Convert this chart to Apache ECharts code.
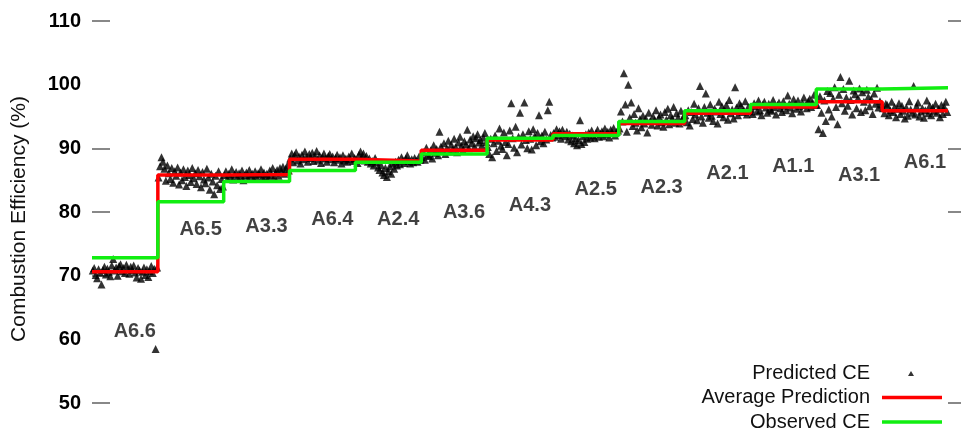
<!DOCTYPE html>
<html>
<head>
<meta charset="utf-8">
<script src="https://cdn.jsdelivr.net/npm/echarts@6/dist/echarts.min.js"></script>
<style>html,body{margin:0;padding:0;background:#fff}#c{width:961px;height:434px}</style>
</head>
<body>
<div id="c"></div>
<script>
// Test categories, in plotting order
const categories = ['A6.6','A6.5','A3.3','A6.4','A2.4','A3.6','A4.3','A2.5','A2.3','A2.1','A1.1','A3.1','A6.1'];
// Average prediction per test (%)
const avgPrediction = [70.6, 85.8, 85.9, 88.3, 88.0, 89.7, 91.3, 92.3, 93.9, 95.5, 96.5, 97.3, 95.9];
// Observed CE per test (%)
const observedCE = [72.8, 81.6, 84.8, 86.5, 87.8, 89.1, 91.6, 92.0, 94.2, 95.9, 96.9, 99.3, 99.5];
// Value height (in %) where each category label sits
const categoryLabelY = [61.2, 77.3, 77.8, 78.9, 78.8, 80.0, 81.0, 83.5, 83.9, 86.0, 87.2, 85.7, 87.7];
// Y-axis ticks
const yTicks = [50, 60, 70, 80, 90, 100, 110];

// Predicted CE samples per test (%)
const predA66 = [70.8,71.2,70.1,69.6,71.0,70.5,68.6,70.9,71.4,70.2,71.1,70.6,69.9,71.6,72.6,70.8,71.3,70.0,71.5,71.8,70.7,71.2,70.4,71.7,71.0,70.3,71.4,70.9,71.6,70.5,69.7,71.2,70.8,69.5,70.6,71.3,70.1,71.0,69.8,70.7,71.5,70.4,71.1,58.5,71.3];
const predA65 = [85.4,87.2,88.6,87.9,86.8,84.9,87.3,86.1,85.2,86.9,84.6,86.4,85.7,87.0,84.3,86.2,85.0,86.7,85.5,84.1,86.5,85.8,84.7,86.9,85.3,86.1,84.4,86.6,85.6,83.9,86.3,85.1,84.5,86.8,85.4,83.5,86.0,84.8,82.8,85.7,84.2,86.4,83.6,85.2,84.0];
const predA33 = [85.8,86.4,85.2,86.0,85.5,86.7,85.1,85.9,86.3,85.4,86.1,85.6,86.5,85.0,85.8,86.2,85.3,86.6,85.7,86.0,85.2,86.4,85.5,86.1,85.9,86.7,85.4,86.2,85.6,86.0,85.3,86.5,85.8,86.9,85.5,86.2,86.6,85.7,86.9,86.3,87.1,86.0,86.8,87.3,86.5];
const predA64 = [88.4,89.2,87.8,88.9,89.4,88.1,88.7,87.6,89.0,88.3,89.5,88.6,87.9,89.1,88.5,89.3,88.0,88.8,89.6,88.2,88.9,87.7,88.6,89.2,88.4,87.9,88.8,89.1,88.3,88.7,87.8,88.5,89.0,88.2,88.6,87.6,88.9,88.1,88.4,87.9,88.7,88.3,89.2,88.0,88.5];
const predA24 = [88.3,87.7,89.0,89.5,88.6,89.2,88.1,88.8,87.9,88.4,87.6,88.0,87.3,88.5,87.8,87.0,86.6,87.4,86.2,85.8,86.9,85.5,86.4,87.2,86.0,87.6,86.8,87.9,87.3,88.2,87.5,88.6,88.1,87.7,88.4,88.9,88.0,87.6,88.3,87.8,88.5,88.1,87.9,88.7,88.2];
const predA36 = [88.6,89.4,88.2,90.1,89.0,88.8,89.7,88.4,90.5,89.3,89.9,88.9,92.6,90.3,89.6,90.8,89.1,90.0,91.2,89.5,90.6,89.8,91.5,90.2,89.4,90.9,91.8,90.4,89.7,91.1,90.6,92.9,90.0,91.4,90.8,91.9,90.3,91.6,92.2,90.9,91.3,90.5,91.7,92.4,91.0];
const predA43 = [90.2,89.1,91.5,88.6,90.8,92.0,89.6,91.2,93.1,90.4,89.9,92.5,91.0,88.9,90.7,92.8,97.1,91.6,90.1,93.4,89.4,91.8,95.6,90.6,92.2,97.2,91.3,90.0,92.7,91.5,89.8,93.0,91.9,90.5,92.4,95.2,91.1,92.0,90.8,92.6,91.4,96.0,97.3,92.1,91.7];
const predA25 = [92.4,91.8,93.0,92.1,92.7,91.5,92.9,92.2,91.9,92.6,91.4,92.3,91.1,92.0,90.8,91.6,90.5,91.3,94.4,90.7,91.9,91.0,92.2,91.5,92.5,91.7,92.8,92.0,91.6,92.4,92.9,91.8,92.3,92.7,91.9,93.1,92.2,92.6,91.7,92.9,92.4,93.2,92.0,92.6,92.8];
const predA23 = [93.1,95.8,94.2,101.8,96.9,92.6,100.0,94.8,97.2,93.5,95.4,94.0,92.8,96.3,94.6,93.3,95.1,93.9,94.7,92.5,95.6,94.3,93.7,95.0,94.4,96.0,93.6,94.9,95.3,94.1,93.4,95.7,94.5,96.2,93.8,95.2,94.7,96.5,94.0,95.5,94.8,93.9,95.9,94.6,95.1];
const predA21 = [95.2,94.1,96.0,93.6,95.7,94.6,97.0,95.3,94.4,96.3,99.8,95.0,94.0,96.5,98.6,95.6,94.8,96.9,95.1,94.3,96.2,95.8,93.9,97.3,95.4,96.6,94.9,95.9,96.8,94.5,97.6,95.5,96.1,94.7,99.6,96.4,95.2,97.1,96.7,95.7,96.0,97.4,95.3,96.5,95.8];
const predA11 = [96.2,95.4,97.1,96.6,95.8,97.5,96.0,95.2,96.9,97.3,96.4,95.6,97.0,96.1,95.9,97.6,96.5,95.3,96.8,97.2,96.3,95.7,97.4,96.7,96.0,98.3,97.0,96.4,95.5,97.7,96.9,96.2,97.5,96.6,95.8,97.1,98.0,96.8,96.3,97.4,97.8,96.5,97.2,98.4,96.9];
const predA31 = [96.8,93.0,98.2,95.6,92.4,97.5,94.3,99.0,96.1,98.7,95.0,97.8,99.6,96.5,93.8,98.4,101.2,97.1,99.3,95.9,98.0,96.7,100.6,97.6,95.3,99.1,98.5,96.3,97.9,99.4,95.7,98.8,97.3,96.0,99.2,98.1,96.6,97.7,95.4,98.6,97.0,99.5,96.4,97.4,96.9];
const predA61 = [96.3,95.5,97.0,96.8,95.2,96.0,97.3,95.7,96.5,94.9,96.2,97.1,95.4,96.7,95.9,94.7,96.4,95.1,97.4,96.1,95.6,99.8,95.3,96.6,97.2,95.0,95.8,96.3,94.8,96.0,97.5,95.5,96.7,95.2,96.4,95.9,97.0,95.6,96.2,94.9,96.8,95.4,96.5,97.3,95.7];

const predictedBySegment = [predA66,predA65,predA33,predA64,predA24,predA36,predA43,predA25,predA23,predA21,predA11,predA31,predA61];

// Build scatter data: each test occupies one unit of x, samples in sample order
const scatterData = [];
predictedBySegment.forEach((arr, i) => {
  arr.forEach((v, k) => scatterData.push([i + (k + 0.5) / arr.length, v]));
});
function stepData(vals) {
  const d = vals.map((v, i) => [i, v]);
  d.push([vals.length, vals[vals.length - 1]]);
  return d;
}
const labelData = categories.map((c, i) => ({ name: c, value: [i + 0.65, categoryLabelY[i]] }));

const FONT = "'Liberation Sans', Arial, sans-serif";
const chart = echarts.init(document.getElementById('c'), null, { renderer: 'canvas' });
chart.setOption({
  animation: false,
  backgroundColor: '#fff',
  grid: { left: 92, right: 13, top: 21, bottom: 31, containLabel: false },
  xAxis: { type: 'value', min: 0, max: categories.length, show: false },
  yAxis: [{
    type: 'value', min: yTicks[0], max: yTicks[yTicks.length - 1], interval: 10,
    name: 'Combustion Efficiency (%)', nameLocation: 'middle', nameGap: 62,
    nameTextStyle: { fontFamily: FONT, fontSize: 21, color: '#111', padding: [0, 0, 0, -14] },
    axisLine: { show: false },
    splitLine: { show: false },
    axisTick: { show: true, inside: true, length: 18, customValues: [50, 70, 80, 90, 110], lineStyle: { color: '#888', width: 2 } },
    axisLabel: { margin: 11, fontFamily: FONT, fontSize: 20, fontWeight: 'bold', color: '#000' }
  }, {
    type: 'value', min: yTicks[0], max: yTicks[yTicks.length - 1], interval: 10, position: 'right',
    axisLine: { show: false }, splitLine: { show: false },
    axisTick: { show: true, inside: false, length: 13, customValues: [50, 80, 90, 110], lineStyle: { color: '#888', width: 2 } },
    axisLabel: { show: false }
  }],
  legend: {
    orient: 'vertical', right: 19, top: 363, height: 120, padding: 0, align: 'right', itemGap: 4.5,
    itemWidth: 67, itemHeight: 14,
    textStyle: { fontFamily: FONT, fontSize: 20, color: '#111' },
    data: [
      { name: 'Predicted CE', icon: 'path://M0,0M67,14M33,10L39,10L36,5Z' },
      { name: 'Average Prediction', icon: 'path://M0,0M67,14M7,5.25h60v3.5h-60z' },
      { name: 'Observed CE', icon: 'path://M0,0M67,14M7,5.25h60v3.5h-60z' }
    ]
  },
  series: [{
    name: 'Predicted CE', type: 'scatter', data: scatterData,
    symbol: 'triangle', symbolSize: 8, itemStyle: { color: '#000' }, silent: true
  }, {
    name: 'Average Prediction', type: 'line', data: stepData(avgPrediction), step: 'end',
    showSymbol: false, lineStyle: { color: '#ff0000', width: 3.5 }, itemStyle: { color: '#ff0000' }, z: 3
  }, {
    name: 'Observed CE', type: 'line', data: stepData(observedCE), step: 'end',
    showSymbol: false, lineStyle: { color: '#11ee11', width: 3.5 }, itemStyle: { color: '#11ee11' }, z: 4
  }, {
    name: 'labels', type: 'scatter', data: labelData, symbolSize: 0, silent: true, z: 5,
    label: { show: true, position: 'inside', formatter: '{b}', fontFamily: FONT, fontSize: 20, fontWeight: 'bold', color: '#111' }
  }]
});
</script>
</body>
</html>
